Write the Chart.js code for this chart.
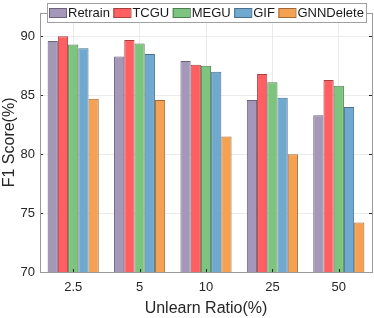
<!DOCTYPE html>
<html>
<head>
<meta charset="utf-8">
<script src="https://cdn.jsdelivr.net/npm/chart.js@4.4.1/dist/chart.umd.min.js"></script>
<style>
  html, body { margin: 0; padding: 0; background: #fff; }
  #wrap { width: 374px; height: 318px; position: relative; }
</style>
</head>
<body>
<div id="wrap"><canvas id="f1chart"></canvas></div>
<script>
// data
const ratios = ['2.5', '5', '10', '25', '50'];
const retrain = [89.6, 88.3, 87.9, 84.6, 83.3];
const tcgu = [90.0, 89.7, 87.6, 86.8, 86.3];
const megu = [89.3, 89.4, 87.5, 86.1, 85.8];
const gif = [89.0, 88.5, 87.0, 84.8, 84.0];
const gnndelete = [84.7, 84.6, 81.5, 80.0, 74.2];
const yTicks = [70, 75, 80, 85, 90];

const FONT = "'Liberation Sans', Arial, Helvetica, sans-serif";

function series(label, data, fill, edge) {
  return {
    label: label,
    data: data,
    backgroundColor: fill,
    borderColor: edge,
    borderWidth: 1,
    borderSkipped: false,
    categoryPercentage: 0.77,
    barPercentage: 1.0
  };
}

// box, inward ticks and the legend sitting inside the axes
const boxLegend = {
  id: 'boxLegend',
  afterDraw(chart) {
    const ctx = chart.ctx;
    const a = chart.chartArea;
    const xs = chart.scales.x, ys = chart.scales.y;
    ctx.save();
    ctx.strokeStyle = '#262626';
    ctx.lineWidth = 1;
    // ticks
    ctx.beginPath();
    ratios.forEach(function (r, i) {
      const px = Math.round(xs.getPixelForValue(i)) + 0.5;
      ctx.moveTo(px, a.bottom); ctx.lineTo(px, a.bottom - 3);
      ctx.moveTo(px, a.top); ctx.lineTo(px, a.top + 3);
    });
    yTicks.forEach(function (v) {
      const py = Math.round(ys.getPixelForValue(v)) + 0.5;
      ctx.moveTo(a.left, py); ctx.lineTo(a.left + 3, py);
      ctx.moveTo(a.right, py); ctx.lineTo(a.right - 3, py);
    });
    ctx.stroke();
    // axes box
    ctx.strokeStyle = '#9a9a9a';
    ctx.strokeRect(Math.round(a.left) + 0.5, Math.round(a.top) + 0.5,
      Math.round(a.right - a.left), Math.round(a.bottom - a.top));

    // legend
    const lx = 47, ly = 3, lw = 319, lh = 19;
    ctx.fillStyle = '#ffffff';
    ctx.fillRect(lx, ly, lw, lh);
    ctx.strokeStyle = '#a0a0a0';
    ctx.strokeRect(lx + 0.5, ly + 0.5, lw, lh);
    ctx.font = '13px ' + FONT;
    ctx.textBaseline = 'middle';
    let x = 49;
    chart.data.datasets.forEach(function (ds) {
      ctx.fillStyle = ds.backgroundColor;
      ctx.fillRect(x, 8, 17, 10);
      ctx.strokeStyle = ds.borderColor;
      ctx.strokeRect(x + 0.5, 8.5, 17, 9);
      ctx.fillStyle = '#1a1a1a';
      ctx.fillText(ds.label, x + 19, 13.5);
      x += 19 + ctx.measureText(ds.label).width + 3.5;
    });
    ctx.restore();
  }
};

new Chart(document.getElementById('f1chart'), {
  type: 'bar',
  data: {
    labels: ratios,
    datasets: [
      series('Retrain', retrain, '#a597b9', '#6d6378'),
      series('TCGU', tcgu, '#ff5f62', '#a9403f'),
      series('MEGU', megu, '#7dc47f', '#4f7f50'),
      series('GIF', gif, '#70a9d0', '#48708c'),
      series('GNNDelete', gnndelete, '#f5a152', '#a26a35')
    ]
  },
  options: {
    responsive: true,
    maintainAspectRatio: false,
    animation: false,
    layout: { padding: { left: 0, right: 2, top: 1, bottom: 0 } },
    plugins: {
      legend: { display: false },
      tooltip: { enabled: false }
    },
    scales: {
      x: {
        grid: { color: '#ebebeb', offset: false, drawTicks: false },
        border: { display: false },
        ticks: { color: '#262626', font: { family: FONT, size: 13 }, padding: 8, maxRotation: 0 },
        title: { display: true, text: 'Unlearn Ratio(%)', color: '#262626', font: { family: FONT, size: 16 }, padding: { top: 2, bottom: 0 } },
        afterFit: function (s) { s.height = 46; }
      },
      y: {
        min: 70,
        max: 92,
        grid: { color: '#ebebeb', drawTicks: false },
        border: { display: false },
        ticks: { stepSize: 5, includeBounds: false, color: '#262626', font: { family: FONT, size: 13 }, padding: 5 },
        title: { display: true, text: 'F1 Score(%)', color: '#262626', font: { family: FONT, size: 16 }, padding: { top: 0, bottom: 4 } },
        afterFit: function (s) { s.width = 40; }
      }
    }
  },
  plugins: [boxLegend]
});
</script>
</body>
</html>
